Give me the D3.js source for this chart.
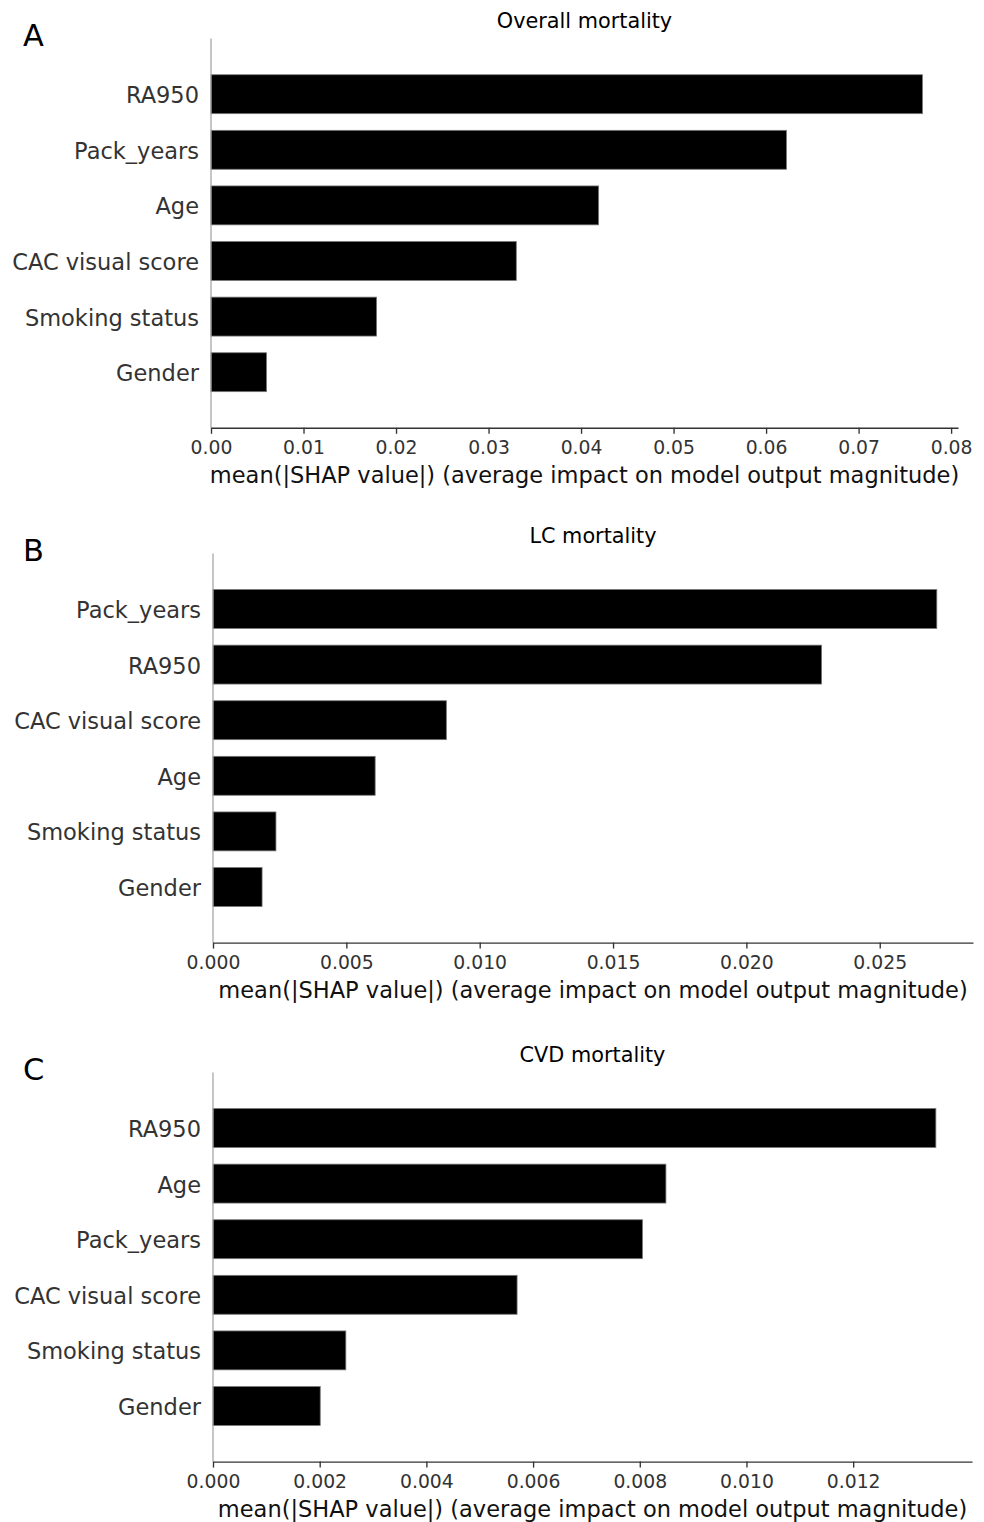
<!DOCTYPE html>
<html>
<head>
<meta charset="utf-8">
<script src="https://cdn.jsdelivr.net/npm/d3@7"></script>
<style>
  html, body { margin: 0; padding: 0; background: #fff; }
  svg { display: block; font-family: "DejaVu Sans", sans-serif; }
</style>
</head>
<body>
<svg id="chart" width="984" height="1522"></svg>
<script>
// ---- Data ----
const overallFeatures = ["RA950", "Pack_years", "Age", "CAC visual score", "Smoking status", "Gender"];
const overallValues   = [0.0769, 0.0622, 0.0419, 0.0330, 0.0179, 0.0060];
const overallTicks    = [0, 0.01, 0.02, 0.03, 0.04, 0.05, 0.06, 0.07, 0.08];

const lcFeatures = ["Pack_years", "RA950", "CAC visual score", "Age", "Smoking status", "Gender"];
const lcValues   = [0.02714, 0.02282, 0.00875, 0.00608, 0.00236, 0.00184];
const lcTicks    = [0, 0.005, 0.010, 0.015, 0.020, 0.025];

const cvdFeatures = ["RA950", "Age", "Pack_years", "CAC visual score", "Smoking status", "Gender"];
const cvdValues   = [0.01355, 0.00849, 0.00805, 0.00570, 0.00249, 0.00201];
const cvdTicks    = [0, 0.002, 0.004, 0.006, 0.008, 0.010, 0.012];

const panelLetters = ["A", "B", "C"];
const panelTitles  = ["Overall mortality", "LC mortality", "CVD mortality"];
const xLabel = "mean(|SHAP value|) (average impact on model output magnitude)";

// ---- Layout ----
const panels = [
  { features: overallFeatures, values: overallValues, ticks: overallTicks, fmt: ".2f",
    x0: 211, x1: 958, yTop: 38.6, yBot: 427.8 },
  { features: lcFeatures, values: lcValues, ticks: lcTicks, fmt: ".3f",
    x0: 213, x1: 973, yTop: 553.4, yBot: 942.6 },
  { features: cvdFeatures, values: cvdValues, ticks: cvdTicks, fmt: ".3f",
    x0: 213, x1: 972, yTop: 1072.4, yBot: 1461.6 }
];

const svg = d3.select("#chart");

panels.forEach((p, i) => {
  const n = p.features.length;
  const xMax = d3.max(p.values) * 1.05;
  const x = d3.scaleLinear().domain([0, xMax]).range([p.x0, p.x1]);
  const y = d3.scaleLinear().domain([-1, n]).range([p.yBot, p.yTop]);
  const barH = Math.abs(y(0) - y(0.7));
  const g = svg.append("g");

  // bars (first feature at top)
  g.selectAll("rect.bar")
    .data(p.values)
    .join("rect")
    .attr("class", "bar")
    .attr("x", x(0))
    .attr("y", (d, j) => y(n - 1 - j) - barH / 2)
    .attr("width", d => x(d) - x(0))
    .attr("height", barH)
    .attr("fill", "#000")
    .attr("stroke", "#777")
    .attr("stroke-width", 0.8);

  // y labels
  g.selectAll("text.ylab")
    .data(p.features)
    .join("text")
    .attr("class", "ylab")
    .attr("x", p.x0 - 12)
    .attr("y", (d, j) => y(n - 1 - j))
    .attr("dy", "0.4em")
    .attr("text-anchor", "end")
    .attr("font-size", 22.5)
    .attr("fill", "#333333")
    .text(d => d);

  // left spine
  g.append("line")
    .attr("x1", p.x0).attr("x2", p.x0)
    .attr("y1", p.yTop).attr("y2", p.yBot)
    .attr("stroke", "#a0a0a0")
    .attr("stroke-width", 1.2);

  // bottom axis
  const axis = d3.axisBottom(x)
    .tickValues(p.ticks)
    .tickFormat(d3.format(p.fmt))
    .tickSize(6)
    .tickPadding(7)
    .tickSizeOuter(0);
  const ax = g.append("g")
    .attr("transform", `translate(0,${p.yBot})`)
    .call(axis);
  ax.select(".domain").attr("stroke", "#333333").attr("stroke-width", 1.35);
  ax.selectAll(".tick line").attr("stroke", "#333333").attr("stroke-width", 1.35);
  ax.selectAll(".tick text")
    .attr("fill", "#333333")
    .attr("font-size", 18.8)
    .attr("font-family", "DejaVu Sans, sans-serif");

  // x label
  g.append("text")
    .attr("x", (p.x0 + p.x1) / 2)
    .attr("y", p.yBot + 55)
    .attr("text-anchor", "middle")
    .attr("font-size", 22.5)
    .attr("fill", "#111")
    .text(xLabel);

  // title
  g.append("text")
    .attr("x", (p.x0 + p.x1) / 2)
    .attr("y", p.yTop - 10.5)
    .attr("text-anchor", "middle")
    .attr("font-size", 20.8)
    .attr("fill", "#000")
    .text(panelTitles[i]);

  // panel letter
  g.append("text")
    .attr("x", 23)
    .attr("y", p.yTop + 7.4)
    .attr("font-size", 30.5)
    .attr("fill", "#000")
    .text(panelLetters[i]);
});
</script>
</body>
</html>
